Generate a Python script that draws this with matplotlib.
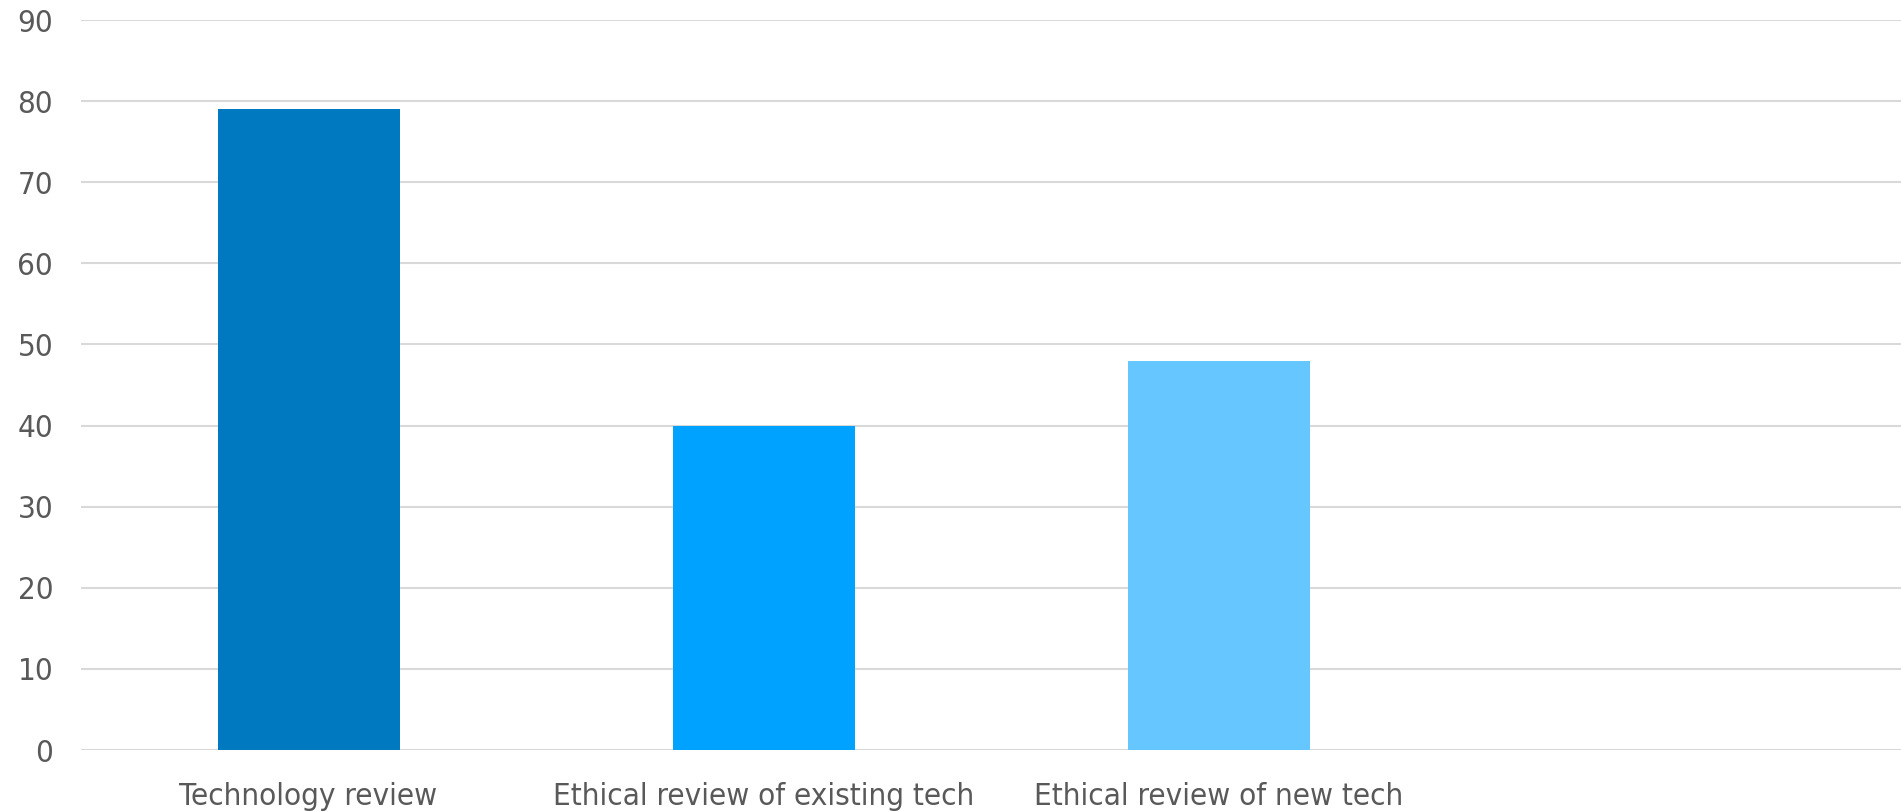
import matplotlib.pyplot as plt

# Chart data
categories = ["Technology review", "Ethical review of existing tech", "Ethical review of new tech"]
values = [79, 40, 48]
bar_colors = ["#0079C1", "#00A2FF", "#66C6FF"]
y_ticks = [0, 10, 20, 30, 40, 50, 60, 70, 80, 90]

plt.rcParams['font.family'] = ['DejaVu Sans']
plt.rcParams['font.stretch'] = 'condensed'

fig = plt.figure(figsize=(19.01, 8.11), dpi=100)
ax = fig.add_axes([81 / 1901, 61 / 811, 1 - 81 / 1901, (750 - 20) / 811])

x = list(range(len(categories)))
ax.bar(x, values, width=0.4, color=bar_colors, zorder=3)

# room for a fourth, empty category slot on the right
ax.set_xlim(-0.5, 3.5)
ax.set_ylim(0, 90)
ax.set_yticks(y_ticks)
ax.set_xticks(x)
ax.set_xticklabels(categories)

# gridlines only, no frame
ax.yaxis.grid(True, color="#D9D9D9", linewidth=1.5, zorder=0)
ax.set_axisbelow(True)
for s in ax.spines.values():
    s.set_visible(False)

ax.tick_params(axis='both', length=0, labelsize=22.5, labelcolor="#595959")
ax.tick_params(axis='y', pad=20)
ax.tick_params(axis='x', pad=23)

fig.savefig("out.png", dpi=100)
